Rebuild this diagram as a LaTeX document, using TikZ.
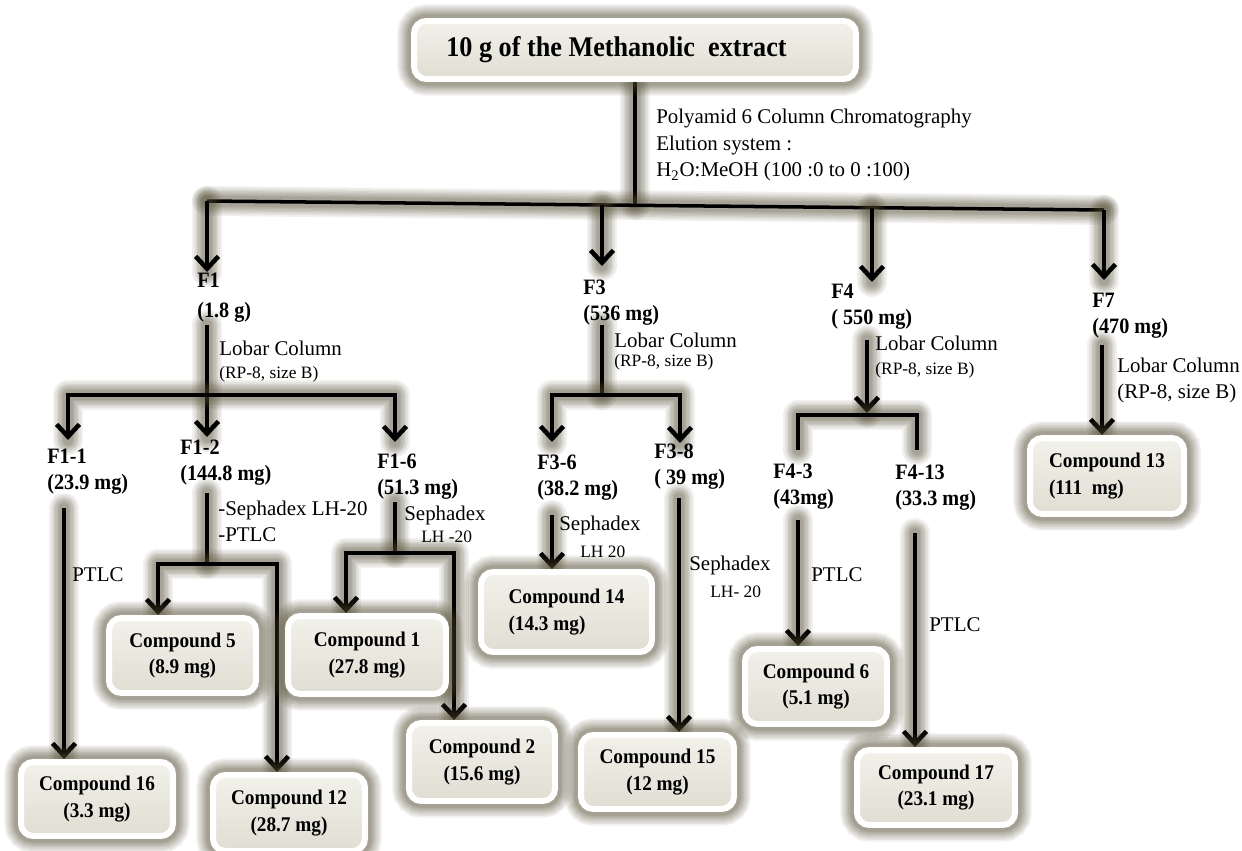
\documentclass[tikz,border=0pt]{standalone}
\usepackage{fontspec}
\setmainfont{Liberation Serif}
\newfontfamily\labfont[FakeStretch=0.92]{Liberation Serif}
\usetikzlibrary{arrows.meta}
\pgfdeclarelayer{back}
\pgfsetlayers{back,main}
\definecolor{glowc}{RGB}{84,78,52}
\definecolor{boxtop}{RGB}{242,241,234}
\definecolor{boxbot}{RGB}{224,222,210}
\tikzset{
  glowring/.style={preaction={draw=glowc,draw opacity=0.085,line width=#1,-,line cap=round,line join=round}},
  halo/.style={glowring=17pt,glowring=15pt,glowring=13pt,glowring=11.5pt,glowring=10pt,
    glowring=8.5pt,glowring=7pt,glowring=6pt},
  boxring/.style={preaction={draw=glowc,draw opacity=0.09,line width=#1}},
  boxhalo/.style={boxring=19pt,boxring=17pt,boxring=15pt,boxring=13pt,boxring=11.5pt,
    boxring=10pt,boxring=8.5pt,boxring=7.5pt},
  link/.style={halo,draw=black,line width=2.6pt},
  arr/.style={link,-{Straight Barb[length=7pt,width=13pt]}},
  arrb/.style={link,{Straight Barb[length=7pt,width=13pt]}-{Straight Barb[length=7pt,width=13pt]}},
  lab/.style={inner sep=0pt,anchor=west,align=left,font={\labfont\bfseries\fontsize{12.5}{14.7}\selectfont}},
  note/.style={inner sep=0pt,anchor=west,align=left,font={\fontsize{11.9}{15.3}\selectfont}},
  notesm/.style={inner sep=0pt,anchor=west,font={\fontsize{9.9}{12}\selectfont}},
  cbox/.style={boxhalo,draw=white,line width=3.4pt,rounded corners=7pt,top color=boxtop,bottom color=boxbot,
    inner sep=0pt,align=center,font={\labfont\bfseries\fontsize{11.9}{15.3}\selectfont}}
}
\begin{document}
\begin{tikzpicture}[x=0.02cm,y=-0.02cm]
\useasboundingbox (0,0) rectangle (1242,850);

% ---- boxes ----
\node[cbox,minimum width=8.84cm,minimum height=1.16cm,font={\labfont\bfseries\fontsize{16.2}{18}\selectfont}]
  (top) at (635,50) {10 g of the Methanolic\ \ extract\hspace*{0.74cm}};
\node[cbox,minimum width=3.04cm,minimum height=1.48cm] (c16) at (97,799) {Compound 16\\(3.3 mg)};
\node[cbox,minimum width=2.94cm,minimum height=1.50cm] (c5) at (182.5,655.5) {Compound 5\\(8.9 mg)};
\node[cbox,minimum width=3.04cm,minimum height=1.52cm] (c12) at (289,813) {Compound 12\\(28.7 mg)};
\node[cbox,minimum width=3.16cm,minimum height=1.56cm] (c1) at (367,655) {Compound 1\\(27.8 mg)};
\node[cbox,minimum width=2.92cm,minimum height=1.56cm] (c2) at (482,762) {Compound 2\\(15.6 mg)};
\node[cbox,minimum width=3.42cm,minimum height=1.60cm,align=left] (c14) at (566.5,612) {Compound 14\\(14.3 mg)};
\node[cbox,minimum width=3.06cm,minimum height=1.48cm] (c15) at (657.5,772) {Compound 15\\(12 mg)};
\node[cbox,minimum width=2.84cm,minimum height=1.50cm] (c6) at (816,686.5) {Compound 6\\(5.1 mg)};
\node[cbox,minimum width=3.16cm,minimum height=1.50cm] (c17) at (936,787.5) {Compound 17\\(23.1 mg)};
\node[cbox,minimum width=3.08cm,minimum height=1.52cm,align=left] (c13) at (1107,476) {Compound 13\\(111\ \ mg)};

% ---- fraction labels ----
\node[lab] (f1) at (197,297.5) {F1\\[2.2pt](1.8 g)};
\node[lab] (f11) at (47,472) {F1-1\\(23.9 mg)};
\node[lab] (f12) at (180,463) {F1-2\\(144.8 mg)};
\node[lab] (f16) at (377,477) {F1-6\\(51.3 mg)};
\node[lab] (f3) at (583,302.5) {F3\\(536 mg)};
\node[lab] (f36) at (537,477.5) {F3-6\\(38.2 mg)};
\node[lab] (f38) at (654,466.5) {F3-8\\( 39 mg)};
\node[lab] (f4) at (831,307) {F4\\( 550 mg)};
\node[lab] (f43) at (773,486.5) {F4-3\\(43mg)};
\node[lab] (f413) at (895,487.5) {F4-13\\(33.3 mg)};
\node[lab] (f7) at (1092,316) {F7\\(470 mg)};

% ---- method notes ----
\node[note] (pol) at (656,145) {Polyamid 6 Column Chromatography\\Elution system :\\H\textsubscript{2}O:MeOH (100 :0 to 0 :100)};
\node[note] (lob1) at (219,348) {Lobar Column};
\node[notesm] (rp1) at (219,374) {(RP-8, size B)};
\node[note] (lob3) at (614,340) {Lobar Column};
\node[notesm] (rp3) at (614,362) {(RP-8, size B)};
\node[note] (lob4) at (875,343) {Lobar Column};
\node[notesm] (rp4) at (875,370) {(RP-8, size B)};
\node[note] (lob7) at (1117,365) {Lobar Column};
\node[note] (rp7) at (1117,393) {(RP-8, size B)};
\node[note] (sep12) at (218,510) {-Sephadex LH-20};
\node[note] (pt12) at (218,535) {-PTLC};
\node[note] (sep16) at (404,515) {Sephadex};
\node[notesm] (lh16) at (421,537) {LH -20};
\node[note] (pt11) at (72,575) {PTLC};
\node[note] (sep36) at (559,525) {Sephadex};
\node[notesm] (lh36) at (580,552) {LH 20};
\node[note] (sep38) at (689,565) {Sephadex};
\node[notesm] (lh38) at (710,592) {LH- 20};
\node[note] (pt43) at (811,575) {PTLC};
\node[note] (pt413) at (929,625) {PTLC};

% ---- junction points ----
\coordinate (mj) at (top.south |- 0,205);
\coordinate (h0) at (207,201);
\coordinate (h1) at (1104,210);
\coordinate (h3) at (602,205);
\coordinate (h4) at (872,208);
\coordinate (t1) at (207,272);
\coordinate (t3) at (602,266);
\coordinate (t4) at (872,282);
\coordinate (t7) at (1104,280);
% F1 split
\coordinate (s1) at (207,325);
\coordinate (b1a) at (68,395);
\coordinate (b1c) at (395,395);
\coordinate (t11) at (68,440);
\coordinate (t12) at (207,437);
\coordinate (t16) at (395,442);
% F1-1
\coordinate (s11) at (64,508);
% F1-2 split
\coordinate (s12) at (207,493);
\coordinate (j12) at (207,564);
\coordinate (b12a) at (158,564);
\coordinate (b12b) at (277,564);
% F1-6 split
\coordinate (s16) at (395,502);
\coordinate (j16) at (395,553);
\coordinate (b16a) at (346,553);
\coordinate (b16b) at (454,553);
% F3 split
\coordinate (s3) at (602,325);
\coordinate (j3) at (602,395);
\coordinate (b3a) at (552,395);
\coordinate (b3b) at (680,395);
\coordinate (t36) at (552,442);
\coordinate (t38) at (680,443);
\coordinate (s36) at (552,515);
\coordinate (s38) at (679,498);
% F4 split
\coordinate (s4) at (867,340);
\coordinate (j4) at (867,413);
\coordinate (b4a) at (798,415);
\coordinate (b4b) at (917,415);
\coordinate (d43) at (798,450);
\coordinate (d413) at (917,450);
\coordinate (s43) at (798,520);
\coordinate (s413) at (915,533);
% F7
\coordinate (s7) at (1102,345);

% ---- connectors ----
\begin{pgfonlayer}{back}
\draw[link,line width=2.2pt] (top.south) -- (mj);
\draw[link,line width=2pt] (h0) -- (h1);
\draw[arr] (h0) -- (t1);
\draw[arr] (h3) -- (t3);
\draw[arr] (h4) -- (t4);
\draw[arr] (h1) -- (t7);

\draw[arr] (s1) -- (t12);
\draw[arrb] (t11) -- (b1a) -- (b1c) -- (t16);

\draw[arr] (s11) -- (s11 |- c16.north);

\draw[link] (s12) -- (j12);
\draw[arrb] (b12a |- c5.north) -- (b12a) -- (b12b) -- (b12b |- c12.north);

\draw[link] (s16) -- (j16);
\draw[arrb] (b16a |- c1.north) -- (b16a) -- (b16b) -- (b16b |- c2.north);

\draw[link] (s3) -- (j3);
\draw[arrb] (t36) -- (b3a) -- (b3b) -- (t38);
\draw[arr] (s36) -- (s36 |- c14.north);
\draw[arr] (s38) -- (s38 |- c15.north);

\draw[arr] (s4) -- (j4);
\draw[link] (d43) -- (b4a) -- (b4b) -- (d413);
\draw[arr] (s43) -- (s43 |- c6.north);
\draw[arr] (s413) -- (s413 |- c17.north);

\draw[arr] (s7) -- (s7 |- c13.north);
\end{pgfonlayer}
\end{tikzpicture}
\end{document}
